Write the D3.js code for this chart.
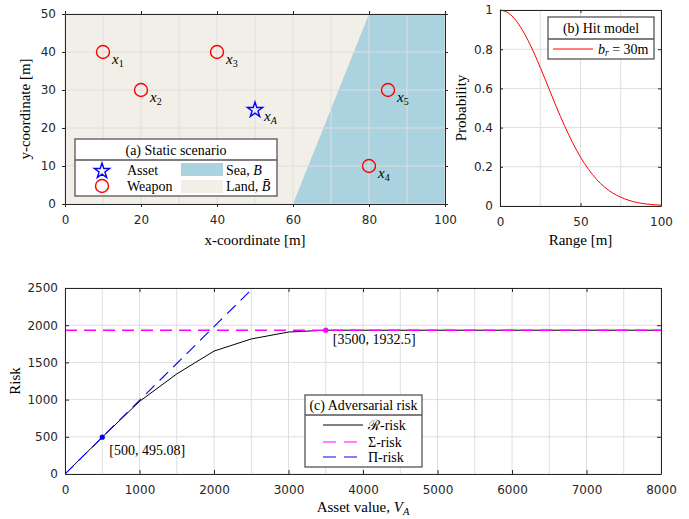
<!DOCTYPE html>
<html><head><meta charset="utf-8">
<script src="https://cdn.jsdelivr.net/npm/d3@7"></script>
<style>body{margin:0;background:#fff}</style>
</head><body><svg id="c" width="689" height="519" xmlns="http://www.w3.org/2000/svg"></svg>
<script>
// ---------- data ----------
const weaponX = [10, 20, 40, 80, 85];
const weaponY = [40, 30, 40, 10, 30];
const weaponLabels = ["1", "2", "3", "4", "5"];
const assetX = [50];
const assetY = [25];
const seaX = [60, 80, 100, 100];
const seaY = [0, 50, 50, 0];

const rangeVals = [0,5,10,15,20,25,30,35,40,45,50,55,60,65,70,75,80,85,90,95,100];
const hitProb = [1.0,0.986,0.946,0.882,0.801,0.707,0.607,0.506,0.411,0.325,0.249,0.187,0.136,0.096,0.066,0.045,0.029,0.018,0.011,0.007,0.004];

const assetValue = [0,500,1000,1500,2000,2500,3000,3500,4000,4500,5000,5500,6000,6500,7000,7500,8000];
const rRisk = [0,495.08,975,1345,1652,1815,1908,1932.5,1932.5,1932.5,1932.5,1932.5,1932.5,1932.5,1932.5,1932.5,1932.5];
const sigmaX = [0, 8000];
const sigmaRisk = [1932.5, 1932.5];
const piX = [0, 500, 1000, 1500, 2000, 2500, 3000];
const piRisk = [0, 495.08, 990, 1485, 1980, 2476, 2970];
const tipX = [500, 3500];
const tipY = [495.08, 1932.5];

const xTicksA = [0,20,40,60,80,100], xGridA = d3.range(0,101,10);
const yTicksA = [0,10,20,30,40,50];
const xTicksB = [0,50,100], xGridB = [0,25,50,75,100];
const yTicksB = [0,0.2,0.4,0.6,0.8,1];
const xTicksC = d3.range(0,8001,1000), xGridC = d3.range(0,8001,500);
const yTicksC = [0,500,1000,1500,2000,2500];

// ---------- setup ----------
const svg = d3.select("#c");
const SERIF = "'Liberation Serif','DejaVu Serif',serif";
const SANS = "'DejaVu Sans',sans-serif";
const AX = "#262626", GRID = "#dedede";
const LBL = 15, LEG = 14;

function panel(L, T, W, H, xs, ys, xticks, xgrid, yticks, ygrid, tickLen, yfmt) {
  const g = svg.append("g").attr("transform", `translate(${L},${T})`);
  const out = tickLen > 0;
  const bg = g.append("g");
  const grid = g.append("g");
  xgrid.forEach(v => grid.append("line").attr("x1", xs(v)).attr("x2", xs(v)).attr("y1", 0).attr("y2", H));
  ygrid.forEach(v => grid.append("line").attr("y1", ys(v)).attr("y2", ys(v)).attr("x1", 0).attr("x2", W));
  grid.selectAll("line").attr("stroke", GRID).attr("stroke-width", 1);
  const marks = g.append("g");
  const axes = g.append("g");
  axes.append("g").attr("transform", `translate(0,${H})`)
    .call(d3.axisBottom(xs).tickValues(xticks).tickSizeInner(tickLen).tickSizeOuter(0).tickPadding(out ? 8.5 : 11.5).tickFormat(d3.format("d")));
  axes.append("g").call(d3.axisTop(xs).tickValues(xticks).tickSizeInner(tickLen).tickSizeOuter(0).tickFormat(""));
  axes.append("g").call(d3.axisLeft(ys).tickValues(yticks).tickSizeInner(tickLen).tickSizeOuter(0).tickPadding(out ? 6 : 7).tickFormat(yfmt));
  axes.append("g").attr("transform", `translate(${W},0)`)
    .call(d3.axisRight(ys).tickValues(yticks).tickSizeInner(tickLen).tickSizeOuter(0).tickFormat(""));
  axes.selectAll("path.domain").attr("stroke", AX).attr("stroke-width", 1);
  axes.selectAll(".tick line").attr("stroke", AX).attr("stroke-width", 1);
  axes.selectAll("text").attr("font-family", SANS).attr("font-size", 12).attr("fill", AX);
  return {g, bg, grid, marks, axes};
}

// ---------- Panel A ----------
const A = {L: 65, T: 14, W: 380, H: 190};
const xA = d3.scaleLinear().domain([0,100]).range([0, A.W]);
const yA = d3.scaleLinear().domain([0,50]).range([A.H, 0]);
const pa = panel(A.L, A.T, A.W, A.H, xA, yA, xTicksA, xGridA, yTicksA, yTicksA, 3, d3.format("d"));
pa.bg.append("rect").attr("width", A.W).attr("height", A.H).attr("fill", "#f2efe9");
pa.bg.append("path").attr("d", d3.line()(seaX.map((v,i)=>[xA(v), yA(seaY[i])])) + "Z").attr("fill", "#aad3df");
const star = d3.symbol().type(d3.symbolStar).size(72);
pa.marks.selectAll("circle.w").data(weaponX).join("circle")
  .attr("cx", d => xA(d)).attr("cy", (d,i) => yA(weaponY[i])).attr("r", 6.5)
  .attr("fill", "none").attr("stroke", "#ff0000").attr("stroke-width", 1.4);
weaponX.forEach((v,i) => {
  const t = pa.marks.append("text").attr("x", xA(v)+9).attr("y", yA(weaponY[i])+12)
    .attr("font-family", SERIF).attr("font-size", 15);
  t.append("tspan").attr("font-style", "italic").text("x");
  t.append("tspan").attr("font-size", 10).attr("dy", 3).text(weaponLabels[i]);
});
assetX.forEach((v,i) => {
  pa.marks.append("path").attr("d", star).attr("transform", `translate(${xA(v)},${yA(assetY[i])+1})`)
    .attr("fill", "none").attr("stroke", "#0000ff").attr("stroke-width", 1.4);
  const t = pa.marks.append("text").attr("x", xA(v)+9).attr("y", yA(assetY[i])+12)
    .attr("font-family", SERIF).attr("font-size", 15);
  t.append("tspan").attr("font-style", "italic").text("x");
  t.append("tspan").attr("font-size", 10).attr("font-style", "italic").attr("dy", 3).text("A");
});
svg.append("text").attr("x", A.L + A.W/2).attr("y", 245).attr("text-anchor", "middle")
  .attr("font-family", SERIF).attr("font-size", LBL).text("x-coordinate [m]");
svg.append("text").attr("transform", `translate(30,${A.T + A.H/2}) rotate(-90)`).attr("text-anchor", "middle")
  .attr("font-family", SERIF).attr("font-size", LBL).text("y-coordinate [m]");

// legend A
{
  const lg = svg.append("g");
  lg.append("rect").attr("x", 75).attr("y", 139).attr("width", 202).attr("height", 57)
    .attr("fill", "#fff").attr("stroke", "#555").attr("stroke-width", 1.3);
  lg.append("line").attr("x1", 75).attr("x2", 277).attr("y1", 160).attr("y2", 160).attr("stroke", "#555").attr("stroke-width", 1.3);
  lg.append("text").attr("x", 176).attr("y", 154.5).attr("text-anchor", "middle").attr("font-family", SERIF).attr("font-size", LEG).text("(a) Static scenario");
  lg.append("path").attr("d", star).attr("transform", "translate(102,171)").attr("fill", "none").attr("stroke", "#0000ff").attr("stroke-width", 1.4);
  lg.append("circle").attr("cx", 102).attr("cy", 186).attr("r", 6.5).attr("fill", "none").attr("stroke", "#ff0000").attr("stroke-width", 1.4);
  lg.append("text").attr("x", 127).attr("y", 174.5).attr("font-family", SERIF).attr("font-size", LEG).text("Asset");
  lg.append("text").attr("x", 127).attr("y", 190.5).attr("font-family", SERIF).attr("font-size", LEG).text("Weapon");
  lg.append("rect").attr("x", 181).attr("y", 163).attr("width", 42).attr("height", 13).attr("fill", "#aad3df");
  lg.append("rect").attr("x", 181).attr("y", 180).attr("width", 42).attr("height", 13).attr("fill", "#f2efe9");
  const s1 = lg.append("text").attr("x", 226).attr("y", 174.5).attr("font-family", SERIF).attr("font-size", LEG);
  s1.append("tspan").text("Sea, "); s1.append("tspan").attr("font-style", "italic").text("B");
  const s2 = lg.append("text").attr("x", 226).attr("y", 190.5).attr("font-family", SERIF).attr("font-size", LEG);
  s2.append("tspan").text("Land, "); s2.append("tspan").attr("font-style", "italic").text("B\u0304");
}

// ---------- Panel B ----------
const B = {L: 500, T: 10, W: 161, H: 196};
const xB = d3.scaleLinear().domain([0,100]).range([0, B.W]);
const yB = d3.scaleLinear().domain([0,1]).range([B.H, 0]);
const pb = panel(B.L, B.T, B.W, B.H, xB, yB, xTicksB, xGridB, yTicksB, yTicksB, -3, d3.format("~g"));
pb.marks.append("path").attr("d", d3.line().x(d => xB(d)).y((d,i) => yB(hitProb[i])).curve(d3.curveMonotoneX)(rangeVals))
  .attr("fill", "none").attr("stroke", "#ff0000").attr("stroke-width", 1);
svg.append("text").attr("x", B.L + B.W/2).attr("y", 245).attr("text-anchor", "middle")
  .attr("font-family", SERIF).attr("font-size", LBL).text("Range [m]");
svg.append("text").attr("transform", `translate(466,${B.T + B.H/2}) rotate(-90)`).attr("text-anchor", "middle")
  .attr("font-family", SERIF).attr("font-size", LBL).text("Probability");
{
  const lg = svg.append("g");
  lg.append("rect").attr("x", 548).attr("y", 17).attr("width", 106).attr("height", 42)
    .attr("fill", "#fff").attr("stroke", "#555").attr("stroke-width", 1.3);
  lg.append("line").attr("x1", 548).attr("x2", 654).attr("y1", 39).attr("y2", 39).attr("stroke", "#555").attr("stroke-width", 1.3);
  lg.append("text").attr("x", 601).attr("y", 32.5).attr("text-anchor", "middle").attr("font-family", SERIF).attr("font-size", LEG).text("(b) Hit model");
  lg.append("line").attr("x1", 553).attr("x2", 593).attr("y1", 49).attr("y2", 49).attr("stroke", "#ff0000").attr("stroke-width", 1);
  const t = lg.append("text").attr("x", 598).attr("y", 53.5).attr("font-family", SERIF).attr("font-size", LEG);
  t.append("tspan").attr("font-style", "italic").text("b");
  t.append("tspan").attr("font-size", 9.5).attr("font-style", "italic").attr("dy", 2).text("r");
  t.append("tspan").attr("dy", -2).text(" = 30m");
}

// ---------- Panel C ----------
const C = {L: 65, T: 288, W: 596, H: 186};
const xC = d3.scaleLinear().domain([0,8000]).range([0, C.W]);
const yC = d3.scaleLinear().domain([0,2500]).range([C.H, 0]);
const pc = panel(C.L, C.T, C.W, C.H, xC, yC, xTicksC, xGridC, yTicksC, yTicksC, -4, d3.format("d"));
svg.append("defs").append("clipPath").attr("id", "clipC").append("rect").attr("width", C.W).attr("height", C.H);
pc.marks.attr("clip-path", "url(#clipC)");
const lineC = (xs, ysv) => d3.line().x(d => xC(d)).y((d,i) => yC(ysv[i]));
pc.marks.append("path").attr("d", lineC(assetValue, rRisk)(assetValue))
  .attr("fill", "none").attr("stroke", "#000").attr("stroke-width", 1);
pc.marks.append("path").attr("d", lineC(sigmaX, sigmaRisk)(sigmaX))
  .attr("fill", "none").attr("stroke", "#ff00ff").attr("stroke-width", 1.4).attr("stroke-dasharray", "12,7");
pc.marks.append("path").attr("d", lineC(piX, piRisk)(piX))
  .attr("fill", "none").attr("stroke", "#0000ff").attr("stroke-width", 1.1).attr("stroke-dasharray", "12,7");
const tipCol = ["#0000ff", "#ff00ff"];
tipX.forEach((v,i) => {
  pc.marks.append("circle").attr("cx", xC(v)).attr("cy", yC(tipY[i])).attr("r", 2.6).attr("fill", tipCol[i]);
});
svg.append("text").attr("x", C.L + xC(tipX[0]) + 7).attr("y", C.T + yC(tipY[0]) + 17.5)
  .attr("font-family", SERIF).attr("font-size", LEG).text(`[${tipX[0]}, ${tipY[0]}]`);
svg.append("text").attr("x", C.L + xC(tipX[1]) + 7).attr("y", C.T + yC(tipY[1]) + 13.5)
  .attr("font-family", SERIF).attr("font-size", LEG).text(`[${tipX[1]}, ${tipY[1]}]`);
{
  const t = svg.append("text").attr("x", C.L + C.W/2).attr("y", 512).attr("text-anchor", "middle")
    .attr("font-family", SERIF).attr("font-size", LBL);
  t.append("tspan").text("Asset value, ");
  t.append("tspan").attr("font-style", "italic").text("V");
  t.append("tspan").attr("font-style", "italic").attr("font-size", 10.5).attr("dy", 3).text("A");
}
svg.append("text").attr("transform", `translate(20,${C.T + C.H/2}) rotate(-90)`).attr("text-anchor", "middle")
  .attr("font-family", SERIF).attr("font-size", LBL).text("Risk");
{
  const lg = svg.append("g");
  lg.append("rect").attr("x", 305).attr("y", 395).attr("width", 117).attr("height", 72)
    .attr("fill", "#fff").attr("stroke", "#555").attr("stroke-width", 1.3);
  lg.append("line").attr("x1", 305).attr("x2", 422).attr("y1", 415).attr("y2", 415).attr("stroke", "#555").attr("stroke-width", 1.3);
  lg.append("text").attr("x", 363.5).attr("y", 410).attr("text-anchor", "middle").attr("font-family", SERIF).attr("font-size", LEG).text("(c) Adversarial risk");
  const items = [["\u211B-risk", "#000", null, 1, 363], ["\u03A3-risk", "#ff00ff", "13,8", 1.2, 357], ["\u03A0-risk", "#0000ff", "13,8", 1.1, 357]];
  const ys = [425, 442, 457];
  items.forEach((it, i) => {
    lg.append("line").attr("x1", 323).attr("x2", it[4]).attr("y1", ys[i]).attr("y2", ys[i])
      .attr("stroke", it[1]).attr("stroke-width", it[3]).attr("stroke-dasharray", it[2]);
    lg.append("text").attr("x", 368).attr("y", ys[i] + 4.5).attr("font-family", SERIF).attr("font-size", LEG).text(it[0]);
  });
}
</script></body></html>
